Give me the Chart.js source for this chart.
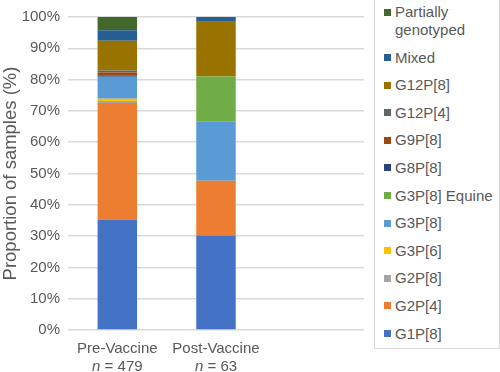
<!DOCTYPE html>
<html>
<head>
    <title>Genotype proportions</title>
    <script src="https://cdn.jsdelivr.net/npm/chart.js"></script>
    <style>
        body { margin: 0; background: #fff; font-family: "Liberation Sans", Arial, sans-serif; }
        .wrap { position: relative; width: 500px; height: 372px; overflow: hidden; }
        .chart-box { position: absolute; left: 0; top: 0; width: 374px; height: 372px; }
        .legend-box {
            position: absolute; left: 374px; top: -1px; width: 124px; height: 345px;
            border: 1px solid #d9d9d9; box-sizing: content-box;
            padding-top: 3px;
            display: flex; flex-direction: column; gap: 9.6px;
            color: #595959; font-size: 15px; line-height: 18px;
        }
        .legend-item { display: flex; align-items: flex-start; padding-left: 9px; }
        .legend-swatch { width: 7px; height: 7px; margin-top: 5.5px; margin-right: 4px; flex: none; }
    </style>
</head>
<body>
<div class="wrap">
    <div class="chart-box"><canvas id="genoChart"></canvas></div>
    <div class="legend-box" id="legend"></div>
</div>

<script>
    // categories (third one is an empty slot, as in the original)
    const categories = ['Pre-Vaccine', 'Post-Vaccine', ''];
    const sampleSizes = ['479', '63', ''];

    // genotypes, bottom of the stack first
    const genotypes = ['G1P[8]', 'G2P[4]', 'G2P[8]', 'G3P[6]', 'G3P[8]', 'G3P[8] Equine',
        'G8P[8]', 'G9P[8]', 'G12P[4]', 'G12P[8]', 'Mixed', 'Partially genotyped'];
    const genotypeColors = ['#4472C4', '#ED7D31', '#A5A5A5', '#FFC000', '#5B9BD5', '#70AD47',
        '#264478', '#9E480E', '#636363', '#997300', '#255E91', '#43682B'];

    // % of samples
    const preVaccine  = [35.3, 37.2, 0.7, 0.7, 7.0, 0,    0.3, 1.1, 0.6, 9.5, 3.4, 4.2];
    const postVaccine = [30.2, 17.5, 0,   0,   19.0, 14.3, 0,   0,   0,   17.5, 1.6, 0];

    const yTicks = [0, 10, 20, 30, 40, 50, 60, 70, 80, 90, 100];

    const textGray = '#595959';
    const fontFamily = '"Liberation Sans", Arial, sans-serif';
    const fontSpec = { family: fontFamily, size: 15 };

    const datasets = genotypes.map((g, i) => ({
        label: g,
        data: [preVaccine[i], postVaccine[i], null],
        backgroundColor: genotypeColors[i],
        borderWidth: 0
    }));

    // second line of x labels ("n = 479") with italic n
    const sampleSizePlugin = {
        id: 'sampleSize',
        afterDraw(chart) {
            const ctx = chart.ctx;
            const xs = chart.scales.x;
            const italicFont = 'italic 15px ' + fontFamily;
            const normalFont = '15px ' + fontFamily;
            ctx.save();
            ctx.fillStyle = textGray;
            ctx.textBaseline = 'middle';
            ctx.textAlign = 'left';
            categories.forEach((c, i) => {
                if (!sampleSizes[i]) return;
                const cx = xs.getPixelForValue(i);
                const y = xs.top + 37;
                const rest = ' = ' + sampleSizes[i];
                ctx.font = italicFont;
                const w1 = ctx.measureText('n').width;
                ctx.font = normalFont;
                const w2 = ctx.measureText(rest).width;
                const x0 = cx - (w1 + w2) / 2;
                ctx.font = italicFont;
                ctx.fillText('n', x0, y);
                ctx.font = normalFont;
                ctx.fillText(rest, x0 + w1, y);
            });
            ctx.restore();
        }
    };

    new Chart(document.getElementById('genoChart').getContext('2d'), {
        type: 'bar',
        data: { labels: categories, datasets: datasets },
        options: {
            responsive: true,
            maintainAspectRatio: false,
            animation: false,
            layout: { padding: { top: 9, right: 10, left: 0, bottom: 0 } },
            datasets: { bar: { categoryPercentage: 0.4, barPercentage: 1 } },
            plugins: {
                legend: { display: false },
                tooltip: { enabled: false }
            },
            scales: {
                x: {
                    stacked: true,
                    grid: { display: false, drawTicks: false },
                    border: { display: false },
                    ticks: { color: textGray, font: fontSpec, padding: 10, maxRotation: 0, autoSkip: false },
                    afterFit(scale) { scale.height = 42; }
                },
                y: {
                    stacked: true,
                    min: 0,
                    max: 100,
                    grid: { color: '#d9d9d9', lineWidth: 1.5, drawTicks: false },
                    border: { display: false },
                    afterBuildTicks(scale) { scale.ticks = yTicks.map(v => ({ value: v })); },
                    ticks: {
                        color: textGray, font: fontSpec, padding: 8,
                        callback: v => v + '%'
                    },
                    title: {
                        display: true, text: 'Proportion of samples (%)',
                        color: textGray, font: { family: fontFamily, size: 18.5 },
                        padding: { top: 0, bottom: 0 }
                    },
                    afterFit(scale) { scale.width = 68; }
                }
            }
        },
        plugins: [sampleSizePlugin]
    });

    // legend, top of the stack first
    const legend = document.getElementById('legend');
    for (let i = genotypes.length - 1; i >= 0; i--) {
        const item = document.createElement('div');
        item.className = 'legend-item';
        const sw = document.createElement('span');
        sw.className = 'legend-swatch';
        sw.style.background = genotypeColors[i];
        const txt = document.createElement('span');
        txt.textContent = genotypes[i];
        item.appendChild(sw);
        item.appendChild(txt);
        legend.appendChild(item);
    }
</script>
</body>
</html>
